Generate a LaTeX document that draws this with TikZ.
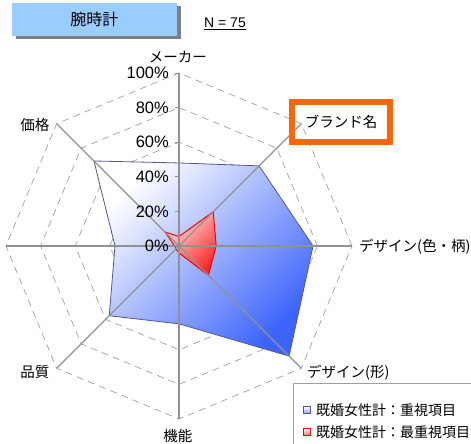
\documentclass[tikz,border=0pt]{standalone}
\usepackage{fontspec}
\setmainfont{Liberation Sans}
\newfontfamily\jp{Noto Sans CJK JP}
\usetikzlibrary{shadows}
\definecolor{axisgray}{RGB}{145,145,145}
\definecolor{gridgray}{RGB}{160,160,160}
\definecolor{titleblue}{RGB}{153,204,255}
\definecolor{deepblue}{RGB}{60,100,250}
\definecolor{edgeblue}{RGB}{85,85,150}
\definecolor{hotred}{RGB}{255,40,40}
\definecolor{brandorange}{RGB}{255,102,0}
\tikzset{
	axisline/.style={draw=axisgray, line width=1.1pt},
	gridline/.style={draw=gridgray, line width=0.7pt, dash pattern=on 7pt off 5pt},
	bluearea/.style={draw=edgeblue, line width=0.8pt, top color=white, bottom color=deepblue, shading angle=45},
	redarea/.style={draw=red, line width=1pt, top color=red!12, bottom color=hotred, shading angle=45},
	axislabel/.style={font=\jp\fontsize{14.5}{16}\selectfont, inner sep=0pt},
	pctlabel/.style={font=\fontsize{16.5}{18}\selectfont, inner sep=0pt, anchor=east},
	legendtext/.style={font=\jp\fontsize{14}{16}\selectfont, inner sep=0pt, anchor=west},
	bluemark/.style={draw=edgeblue, line width=0.8pt, top color=white, bottom color=deepblue!60, minimum size=7pt, inner sep=0pt},
	redmark/.style={draw=red, line width=0.8pt, top color=white, bottom color=red!60, minimum size=7pt, inner sep=0pt}
}
\newcommand{\R}{173}
\begin{document}
\begin{tikzpicture}[x=1pt, y=1pt]
		\useasboundingbox (-179,-198) rectangle (292,246);
		\node[fill=titleblue, minimum width=165, minimum height=33, drop shadow={opacity=1, fill=gray, shadow xshift=4pt, shadow yshift=-3pt}, font=\jp\fontsize{16}{18}\selectfont] (title) at (-84.5,226.5) {腕時計};
		\node[font=\fontsize{14}{16}\selectfont] (count) at (46,222) {\underline{N = 75}};
		\foreach \r in {1,...,5}
			\draw[gridline] (0:\r*\R/5) \foreach \a in {45,90,...,315} {-- (\a:\r*\R/5)} -- cycle;
		\draw[bluearea] (90:0.48*\R) -- (45:0.655*\R) -- (0:0.775*\R) -- (-45:0.90*\R) -- (-90:0.45*\R) -- (-135:0.57*\R) -- (180:0.37*\R) -- (135:0.695*\R) -- cycle;
		\draw[redarea] (90:0.055*\R) -- (45:0.28*\R) -- (0:0.215*\R) -- (-45:0.24*\R) -- (-90:0.04*\R) -- (-135:0.025*\R) -- (180:0.025*\R) -- (135:0.115*\R) -- cycle;
		\coordinate (o) at (0,0);
		\foreach \a in {90,45,...,-225}
			\draw[axisline] (o) -- (\a:\R);
		\foreach \r/\t in {0/0\%,1/20\%,2/40\%,3/60\%,4/80\%,5/100\%} {
			\draw[axisline, line width=0.8pt] (-4,\r*\R/5) -- (0,\r*\R/5);
			\node[pctlabel] at (-10,\r*\R/5) {\t};
		}
		\node[axislabel] (maker) at (-1,189) {メーカー};
		\node[axislabel, draw=brandorange, line width=6pt, minimum width=98, minimum height=40] (brand) at (162,124) {ブランド名};
		\node[axislabel, anchor=west] (pattern) at (180,-1) {デザイン(色・柄)};
		\node[axislabel, anchor=west] (form) at (128,-127) {デザイン(形)};
		\node[axislabel] (func) at (-1,-190) {機能};
		\node[axislabel] (quality) at (-144,-126) {品質};
		\node[axislabel] (price) at (-144,121) {価格};
		\draw[draw=gridgray, line width=0.8pt] (114,-210) |- (300,-137);
		\node[bluemark] (keyblue) at (128,-164) {};
		\node[legendtext] at (137,-164) {既婚女性計：重視項目};
		\node[redmark] (keyred) at (128,-186) {};
		\node[legendtext] at (137,-186) {既婚女性計：最重視項目};
	\end{tikzpicture}
\end{document}
